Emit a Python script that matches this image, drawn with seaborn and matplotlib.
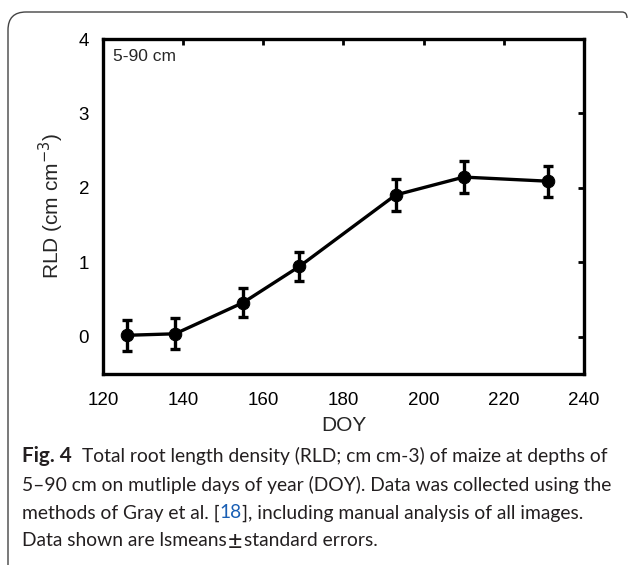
import matplotlib
matplotlib.use("Agg")
import matplotlib.pyplot as plt
import seaborn as sns
import pandas as pd
from matplotlib.path import Path
from matplotlib.patches import PathPatch

sns.set_theme(style="white")
plt.rcParams['font.family'] = ['Liberation Sans', 'DejaVu Sans']

doy = [126, 138, 155, 169, 193, 210, 231]
rld = [0.02, 0.04, 0.46, 0.945, 1.905, 2.145, 2.09]
se = [0.21, 0.21, 0.20, 0.20, 0.21, 0.21, 0.21]
xticks = [120, 140, 160, 180, 200, 220, 240]
yticks = [0, 1, 2, 3, 4]

df = pd.DataFrame({"DOY": doy, "RLD": rld, "SE": se})

W, H = 629, 565
fig = plt.figure(figsize=(W / 100, H / 100), dpi=100)
ax = fig.add_axes([103 / W, (H - 374) / H, (584 - 103) / W, (374 - 39) / H])

ax.errorbar(df["DOY"], df["RLD"], yerr=df["SE"], fmt="none", ecolor="black",
            elinewidth=2.4, capsize=3.5, capthick=2.4, zorder=2)
sns.lineplot(data=df, x="DOY", y="RLD", ax=ax, color="black", linewidth=2.4,
             marker="o", markersize=9, markeredgecolor="black", zorder=3)

ax.set_xlim(120, 240)
ax.set_ylim(-0.5, 4)
ax.set_xticks(xticks)
ax.set_yticks(yticks)
ax.set_xticklabels([str(t) for t in xticks], fontsize=13.5)
ax.set_yticklabels([str(t) for t in yticks], fontsize=13.5)
ax.tick_params(direction="in", length=4, width=2, top=True, right=True,
               colors="black", pad=10)
ax.tick_params(axis="x", pad=13)
for s in ax.spines.values():
    s.set_linewidth(2.4)
    s.set_color("black")
ax.set_xlabel("DOY", fontsize=15, labelpad=5)
ax.set_ylabel("RLD (cm cm$^{-3}$)", fontsize=15, labelpad=9)
ax.text(10 / (584 - 103), 1 - 10 / (374 - 39), "5-90 cm", transform=ax.transAxes,
        fontsize=12.5, va="top", ha="left")

# Outer rounded frame (top and left visible)
r = 18
verts = [(8, H), (8, 12 + r), (8, 12), (8 + r, 12), (622, 12), (627, 12), (627, 18)]
codes = [Path.MOVETO, Path.LINETO, Path.CURVE3, Path.CURVE3, Path.LINETO,
         Path.CURVE3, Path.CURVE3]
verts_fig = [(x / W, 1 - y / H) for x, y in verts]
frame = PathPatch(Path(verts_fig, codes), transform=fig.transFigure,
                  fill=False, edgecolor="#444444", linewidth=1.0)
fig.add_artist(frame)

cap_font = ['Lato', 'DejaVu Sans']
fig.canvas.draw()
rend = fig.canvas.get_renderer()

col = "#231f20"
x0 = 22
y1 = 1 - 456 / H

line1 = "Total root length density (RLD; cm cm-3) of maize at depths of"
probe = fig.text(0, 0, line1, fontsize=10, family=cap_font)
wprobe = probe.get_window_extent(rend).width
probe.remove()
probe2 = fig.text(0, 0, "Fig. 4", fontsize=10, family=cap_font, fontweight="bold")
wfig = probe2.get_window_extent(rend).width
probe2.remove()
# figure label about 50 px wide, then a 10 px gap, line reaching x=608
fs_fig = 10 * 50 / wfig
start = x0 + 50 + 10
fs = 10 * (608 - start) / wprobe

fig.text(x0 / W, y1, "Fig. 4", fontsize=fs_fig, fontweight="bold",
         family=cap_font, va="center", ha="left", color=col)
fig.text(start / W, y1, line1,
         fontsize=fs, family=cap_font, va="center", ha="left", color=col)
fig.text(x0 / W, 1 - 485 / H,
         "5\u201390 cm on mutliple days of year (DOY). Data was collected using the",
         fontsize=fs, family=cap_font, va="center", ha="left", color=col)
t = fig.text(x0 / W, 1 - 513 / H, "methods of Gray et al. [",
             fontsize=fs, family=cap_font, va="center", ha="left", color=col)
bb = t.get_window_extent(rend)
t2 = fig.text(bb.x1 / W, 1 - 513 / H, "18", fontsize=fs, family=cap_font,
              va="center", ha="left", color="#1a5fb4")
bb2 = t2.get_window_extent(rend)
fig.text(bb2.x1 / W, 1 - 513 / H, "], including manual analysis of all images.",
         fontsize=fs, family=cap_font, va="center", ha="left", color=col)
t4 = fig.text(x0 / W, 1 - 541 / H, "Data shown are lsmeans",
              fontsize=fs, family=cap_font, va="center", ha="left", color=col)
bb4 = t4.get_window_extent(rend)
t5 = fig.text(bb4.x1 / W + 0.002, 1 - 541 / H, "\u00b1", fontsize=fs * 1.3,
              family=cap_font, va="center", ha="left", color=col)
bb5 = t5.get_window_extent(rend)
fig.text(bb5.x1 / W + 0.002, 1 - 541 / H, "standard errors.",
         fontsize=fs, family=cap_font, va="center", ha="left", color=col)

fig.savefig("out.png", dpi=100)
